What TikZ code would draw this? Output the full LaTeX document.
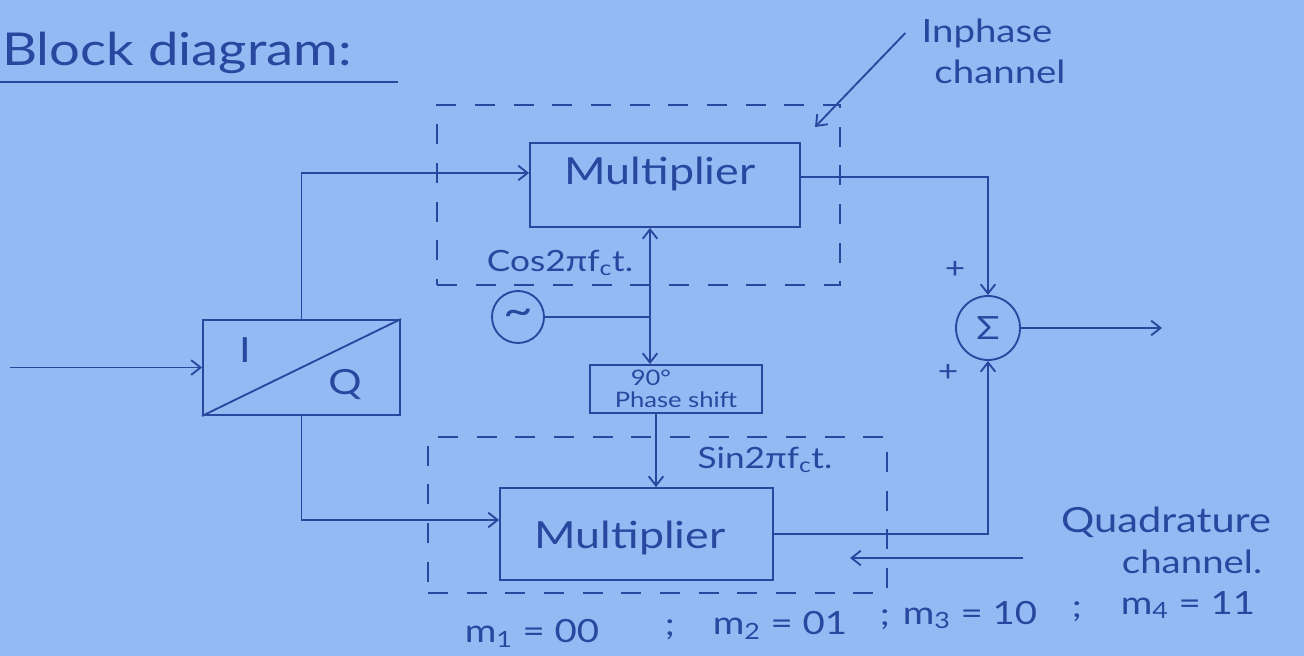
\documentclass[tikz,border=0pt]{standalone}
\usepackage{fontspec}
\setmainfont{Lato}[FakeStretch=1.2]
\usetikzlibrary{arrows.meta}
\definecolor{paper}{RGB}{148,186,244}
\definecolor{ink}{RGB}{40,72,160}
\begin{document}
\begin{tikzpicture}[x=0.75pt,y=-0.75pt,
  inkline/.style={draw=ink, line width=1.4pt},
  arr/.style={inkline, -{Straight Barb[length=7pt,width=11pt]}},
  blk/.style={draw=ink, line width=1.4pt, inner sep=0pt},
  dashbox/.style={draw=ink, line width=1.2pt, dash pattern=on 15pt off 14pt, inner sep=0pt},
  txt/.style={text=ink, inner sep=0pt},
  fbig/.style={font=\fontsize{34}{40}\selectfont},
  fmul/.style={font=\fontsize{28}{30}\selectfont},
  flab/.style={font=\fontsize{22}{24}\selectfont},
  fchan/.style={font=\fontsize{24}{26}\selectfont}
]
\fill[paper] (0,0) rectangle (1304,656);
\useasboundingbox (0,0) rectangle (1304,656);

% title
\node[txt, fbig, anchor=base west] (title) at (2,66) {Block diagram:};
\draw[inkline] (0,82) -- (398,82);

% dashed channel boxes
\node[dashbox, minimum width=302.25pt, minimum height=135pt] (boxI) at (638.5,195) {};
\node[dashbox, minimum width=344.25pt, minimum height=117pt] (boxQ) at (657.5,515) {};

% blocks
\node[blk, minimum width=202.5pt, minimum height=63pt] (mulI) at (665,185) {};
\node[txt, fmul] (mulIt) at (660,174) {Multiplier};
\node[blk, minimum width=204.75pt, minimum height=69pt] (mulQ) at (636.5,534) {};
\node[txt, fmul] (mulQt) at (630,538) {Multiplier};

\node[blk, minimum width=147.75pt, minimum height=71.25pt] (IQ) at (301.5,367.5) {};
\draw[inkline] (IQ.south west) -- (IQ.north east);
\node[txt, font=\fontsize{26}{28}\selectfont] (Ilab) at (245,350) {I};
\node[txt, font=\fontsize{26}{28}\selectfont] (Qlab) at (345,385) {Q};

\node[blk, minimum width=129pt, minimum height=36pt, align=left,
      font=\fontsize{16}{16.5}\selectfont, text=ink] (ps) at (676,389) {\hspace*{12pt}90°\\Phase shift};

\node[blk, circle, minimum size=39pt, text=ink, font=\fontsize{32}{32}\selectfont] (osc) at (518,317) {\textasciitilde};
\node[blk, circle, minimum size=48pt, text=ink, font=\fontsize{24}{24}\selectfont] (sum) at (988,328) {Σ};

% oscillator feeds
\coordinate (j) at (650,317);
\draw[inkline] (osc.east) -- (j);
\draw[arr] (j) -- (j |- mulI.south);
\draw[arr] (j) -- (j |- ps.north);
\draw[arr] ([xshift=-15pt]ps.south) -- ([xshift=-15pt]ps.south |- mulQ.north);

% signal path
\coordinate (in) at (10,367.5);
\draw[arr] (in) -- (IQ.west);
\draw[arr] (IQ.north) |- ([yshift=9pt]mulI.west);
\draw[arr] (IQ.south) |- ([yshift=10.5pt]mulQ.west);
\draw[arr] ([yshift=6pt]mulI.east) -| (sum.north);
\draw[arr] (mulQ.east) -| (sum.south);
\coordinate (out) at (1162,328);
\draw[arr] (sum.east) -- (out);

\node[txt, font=\fontsize{22}{22}\selectfont] (p1) at (955,270) {+};
\node[txt, font=\fontsize{22}{22}\selectfont] (p2) at (948,373) {+};

% carrier labels
\node[txt, flab] (cosl) at (560,263) {Cos2πf\textsubscript{c}t.};
\node[txt, flab] (sinl) at (765,460) {Sin2πf\textsubscript{c}t.};

% channel labels
\node[txt, fchan] (inph1) at (987,33) {Inphase};
\node[txt, fchan] (inph2) at (1000,72) {channel};
\coordinate (inA) at (815,127);
\draw[arr] ([xshift=-12pt]inph1.west) -- (inA);

\node[txt, font=\fontsize{26}{28}\selectfont] (quad1) at (1166,522) {Quadrature};
\node[txt, fchan] (quad2) at (1192,562) {channel.};
\coordinate (qS) at (1023,558);
\coordinate (qA) at (850,558);
\draw[arr] (qS) -- (qA);

% symbol map
\node[txt, fchan] (m1) at (532,633) {m\textsubscript{1} = 00};
\node[txt, fchan] (s1) at (670,630) {;};
\node[txt, fchan] (m2) at (780,625) {m\textsubscript{2} = 01};
\node[txt, fchan] (s2) at (885,620) {;};
\node[txt, fchan] (m3) at (970,615) {m\textsubscript{3} = 10};
\node[txt, fchan] (s3) at (1077,612) {;};
\node[txt, fchan] (m4) at (1188,605) {m\textsubscript{4} = 11};
\end{tikzpicture}
\end{document}
